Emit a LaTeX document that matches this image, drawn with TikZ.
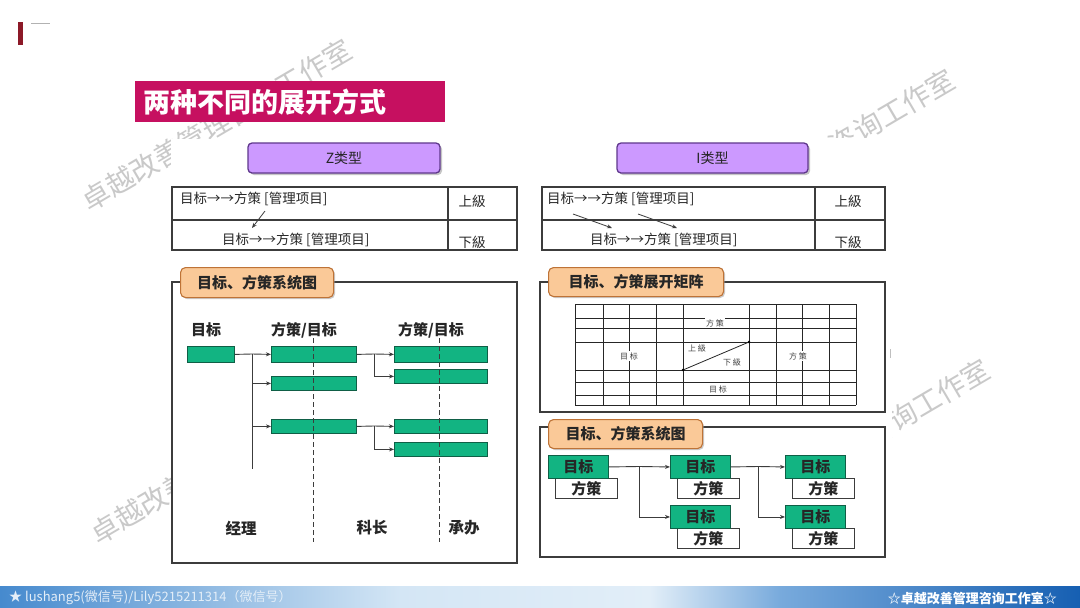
\documentclass[tikz,border=0pt]{standalone}
\usepackage{fontspec}
\setmainfont{Noto Sans CJK SC}
\usetikzlibrary{arrows.meta,shadows}
\newcommand{\fsz}[1]{\fontsize{#1pt}{#1pt}\selectfont}
\definecolor{titlemag}{RGB}{198,16,96}
\definecolor{purpfill}{RGB}{204,153,255}
\definecolor{purpline}{RGB}{95,55,140}
\definecolor{orfill}{RGB}{250,201,152}
\definecolor{orline}{RGB}{190,115,55}
\definecolor{grfill}{RGB}{18,180,130}
\definecolor{grline}{RGB}{15,95,70}
\definecolor{lineg}{RGB}{60,60,60}
\definecolor{darkred}{RGB}{140,25,40}
\definecolor{ftA}{RGB}{70,138,206}
\definecolor{ftB}{RGB}{212,230,245}
\definecolor{ftC}{RGB}{226,238,248}
\definecolor{ftD}{RGB}{120,170,220}
\definecolor{ftE}{RGB}{22,95,178}
\definecolor{fttext}{RGB}{228,238,248}
\begin{document}
\begin{tikzpicture}[x=1pt,y=-1pt,
  wmtext/.style={font=\fsz{28}, rotate=30.4, inner sep=0, text=gray!42},
  typebox/.style={rounded corners=4pt, fill=purpfill, draw=purpline, line width=1.3pt,
    minimum width=192pt, minimum height=30pt, inner sep=0, font=\fsz{14}, text=black!85,
    drop shadow={shadow xshift=2pt, shadow yshift=-2pt, fill=black!45}},
  tline/.style={draw=lineg, line width=1.1pt},
  cell/.style={font=\fsz{13.5}, inner sep=0, text=black!85},
  lbl/.style={rounded corners=5pt, fill=orfill, draw=orline, line width=1.1pt, inner sep=0,
    font=\fsz{15}\bfseries, text=black!85, anchor=north west,
    drop shadow={shadow xshift=1.5pt, shadow yshift=-1.5pt, fill=black!40}},
  frame/.style={draw=lineg, line width=1.1pt},
  gbox/.style={fill=grfill, draw=grline, line width=0.8pt, inner sep=0, anchor=north west},
  conn/.style={draw=lineg, line width=0.9pt},
  arr/.style={conn, -{Stealth[length=5pt,width=4pt]}},
  dashln/.style={draw=lineg, line width=1pt, dash pattern=on 5pt off 3pt},
  hdr/.style={font=\fsz{15}\bfseries, inner sep=0, text=black!85},
  mtx/.style={draw=black!85, line width=0.8pt},
  mtxt/.style={font=\fsz{8}, fill=white, inner sep=1pt, text=black!75},
  gnode/.style={fill=grfill, draw=grline, line width=0.9pt, minimum width=60pt, minimum height=23pt,
    inner sep=0, font=\fsz{15}\bfseries, text=black!85, anchor=north west},
  wnode/.style={fill=white, draw=lineg, line width=0.9pt, minimum width=62pt, minimum height=20pt,
    inner sep=0, font=\fsz{15}\bfseries, text=black!85, anchor=north west}
]
\useasboundingbox (0,0) rectangle (1080,608);
\fill[white] (0,0) rectangle (1080,608);

% watermarks
\node[wmtext] (wm1) at (216.5,125) {卓越改善管理咨询工作室};
\node[wmtext] (wm2) at (819.5,155) {卓越改善管理咨询工作室};
\node[wmtext] (wm3) at (854.5,445) {卓越改善管理咨询工作室};
\node[wmtext] (wm4) at (225.5,458) {卓越改善管理咨询工作室};
% content areas hide the watermarks
\fill[white] (171,139) rectangle (522,567);
\fill[white] (530,138) rectangle (892,567);

% top-left mark
\fill[darkred] (18,22) rectangle (23,45);
\draw[gray!60, line width=0.8pt] (31,23.5) -- (50,23.5);

% title bar
\node[fill=titlemag, anchor=north west, minimum width=310pt, minimum height=41pt,
  text width=294pt, align=left, inner xsep=8pt, inner ysep=0pt,
  font=\fsz{27}\bfseries, text=white] (title) at (135,81) {两种不同的展开方式};

% type boxes
\node[typebox] (ztype) at (344,158) {Z类型};
\node[typebox, minimum width=191pt] (itype) at (712.5,158) {I类型};

% Z table
\draw[tline] (172,187) rectangle (517,250);
\draw[tline] (172,220) -- (517,220);
\draw[tline] (448,187) -- (448,250);
\node[cell, anchor=west] (zt1) at (180,199) {目标→→方策 [管理项目]};
\node[cell, anchor=west] (zt2) at (222,240) {目标→→方策 [管理项目]};
\node[cell] (zup) at (472,201) {上級};
\node[cell] (zdn) at (472,242) {下級};
\coordinate (za1) at (265,211);
\coordinate (za2) at (252,228);
\draw[arr, line width=0.8pt] (za1) -- (za2);

% I table
\draw[tline] (542,187) rectangle (885,250);
\draw[tline] (542,220) -- (885,220);
\draw[tline] (815,187) -- (815,250);
\node[cell, anchor=west] (it1) at (547,199) {目标→→方策 [管理项目]};
\node[cell, anchor=west] (it2) at (590,240) {目标→→方策 [管理项目]};
\node[cell] (iup) at (848,201) {上級};
\node[cell] (idn) at (848,242) {下級};
\coordinate (ia1) at (573,214);
\coordinate (ia2) at (612,228);
\coordinate (ib1) at (638,214);
\coordinate (ib2) at (677,228);
\draw[arr, line width=0.8pt] (ia1) -- (ia2);
\draw[arr, line width=0.8pt] (ib1) -- (ib2);

% left system diagram
\draw[frame] (172,282) rectangle (517,563);
\node[lbl, minimum width=153pt, minimum height=30pt] (lab1) at (180,267) {目标、方策系统图};
\node[hdr] (h1) at (206,330) {目标};
\node[hdr] (h2) at (304,330) {方策/目标};
\node[hdr] (h3) at (431,330) {方策/目标};
\node[gbox, minimum width=47pt, minimum height=16pt] (A) at (187,346) {};
\node[gbox, minimum width=85pt, minimum height=16pt] (B1) at (271,346) {};
\node[gbox, minimum width=85pt, minimum height=14pt] (B2) at (271,376) {};
\node[gbox, minimum width=85pt, minimum height=14pt] (B3) at (271,419) {};
\node[gbox, minimum width=93pt, minimum height=16pt] (C1) at (394,346) {};
\node[gbox, minimum width=93pt, minimum height=14pt] (C2) at (394,369) {};
\node[gbox, minimum width=93pt, minimum height=14pt] (C3) at (394,419) {};
\node[gbox, minimum width=93pt, minimum height=14pt] (C4) at (394,442) {};
\coordinate (t1) at (252,354);
\coordinate (t1e) at (252,469);
\draw[conn] (A.east) -- (t1);
\draw[conn] (t1) -- (t1e);
\draw[arr] (t1) -- (B1.west);
\draw[arr] (t1 |- B2.west) -- (B2.west);
\draw[arr] (t1 |- B3.west) -- (B3.west);
\coordinate (t2) at (374,354);
\draw[conn] (B1.east) -- (t2);
\draw[arr] (t2) -- (C1.west);
\draw[arr] (t2) |- (C2.west);
\coordinate (t3) at (374,426);
\draw[conn] (B3.east) -- (t3);
\draw[arr] (t3) -- (C3.west);
\draw[arr] (t3) |- (C4.west);
\coordinate (d1a) at (313,338);
\coordinate (d1b) at (313,542);
\coordinate (d2a) at (439,338);
\coordinate (d2b) at (439,542);
\draw[dashln] (d1a) -- (d1b);
\draw[dashln] (d2a) -- (d2b);
\node[hdr, font=\fsz{15.5}\bfseries] (r1l) at (241,528) {经理};
\node[hdr, font=\fsz{15.5}\bfseries] (r2l) at (372,528) {科长};
\node[hdr, font=\fsz{15.5}\bfseries] (r3l) at (464,528) {承办};

% right matrix
\draw[frame] (540,282) rectangle (885,412);
\node[lbl, minimum width=175pt, minimum height=29pt] (lab2) at (548,267) {目标、方策展开矩阵};
\foreach \yy in {304,318,328,342,370,382,395,405} \draw[mtx] (575,\yy) -- (856,\yy);
\foreach \xx in {575,603,629,656,683,749,776,802,829,856} \draw[mtx] (\xx,304) -- (\xx,405);
\coordinate (dg1) at (683,370);
\coordinate (dg2) at (749,342);
\draw[mtx] (dg1) -- (dg2);
\fill[black] (dg1) circle (1.3pt);
\fill[black] (dg2) circle (1.3pt);
\node[mtxt] (m1) at (715,323) {方 策};
\node[mtxt] (m2) at (629,356) {目 标};
\node[mtxt] (m3) at (798,356) {方 策};
\node[mtxt] (m4) at (718,389) {目 标};
\node[font=\fsz{8}, inner sep=0, text=black!75] (m5) at (697,348) {上 級};
\node[font=\fsz{8}, inner sep=0, text=black!75] (m6) at (732,362) {下 級};
\draw[gray!50, line width=0.8pt] (890,349) -- (890,358);

% right system diagram
\draw[frame] (540,427) rectangle (885,557);
\node[lbl, minimum width=154pt, minimum height=29pt] (lab3) at (548,419) {目标、方策系统图};
\node[wnode] (W1) at (555,478) {方策};
\node[gnode] (G1) at (548,455) {目标};
\node[wnode] (W2) at (677,478) {方策};
\node[gnode] (G2) at (670,455) {目标};
\node[wnode] (W3) at (792,478) {方策};
\node[gnode] (G3) at (785,455) {目标};
\node[wnode] (W4) at (677,528) {方策};
\node[gnode] (G4) at (670,505) {目标};
\node[wnode] (W5) at (792,528) {方策};
\node[gnode] (G5) at (785,505) {目标};
\coordinate (s1) at (639,466.5);
\coordinate (s2) at (758,466.5);
\draw[conn] (G1.east) -- (s1);
\draw[arr] (s1) -- (G2.west);
\draw[arr] (s1) |- (G4.west);
\draw[conn] (G2.east) -- (s2);
\draw[arr] (s2) -- (G3.west);
\draw[arr] (s2) |- (G5.west);

% footer
\shade[left color=ftA, right color=ftB] (0,586) rectangle (400.5,608);
\shade[left color=ftB, right color=ftC] (400,586) rectangle (650.5,608);
\shade[left color=ftC, right color=ftD] (650,586) rectangle (780.5,608);
\shade[left color=ftD, right color=ftE] (780,586) rectangle (1080,608);
\node[anchor=west, inner sep=0, font=\fsz{13}, text=fttext] (fl) at (9,598) {★ lushang5(微信号)/Lily5215211314（微信号）};
\node[anchor=east, inner sep=0, font=\fsz{13}\bfseries, text=white] (fr) at (1057,598) {☆卓越改善管理咨询工作室☆};
\end{tikzpicture}
\end{document}
